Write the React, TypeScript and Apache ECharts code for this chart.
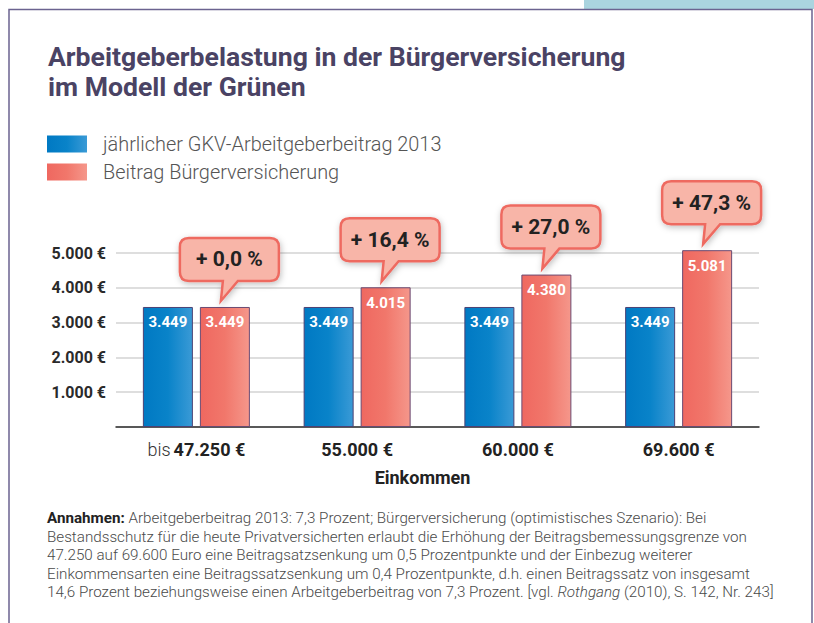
import React, { useEffect, useRef } from "react";
import * as echarts from "echarts";

const categories = ["bis 47.250 €", "55.000 €", "60.000 €", "69.600 €"];
const gkv2013 = [3449, 3449, 3449, 3449];
const buergerversicherung = [3449, 4015, 4380, 5081];
const pctChange = ["+ 0,0 %", "+ 16,4 %", "+ 27,0 %", "+ 47,3 %"];
const seriesNames = ["jährlicher GKV-Arbeitgeberbeitrag 2013", "Beitrag Bürgerversicherung"];
const yTicks = [0, 1000, 2000, 3000, 4000, 5000];
const titleLines = ["Arbeitgeberbelastung in der Bürgerversicherung", "im Modell der Grünen"];
const axisName = "Einkommen";
const footnoteLines = [
  "{b|Annahmen:} Arbeitgeberbeitrag 2013: 7,3 Prozent; Bürgerversicherung (optimistisches Szenario): Bei",
  "Bestandsschutz für die heute Privatversicherten erlaubt die Erhöhung der Beitragsbemessungsgrenze von",
  "47.250 auf 69.600 Euro eine Beitragsatzsenkung um 0,5 Prozentpunkte und der Einbezug weiterer",
  "Einkommensarten eine Beitragssatzsenkung um 0,4 Prozentpunkte, d.h. einen Beitragssatz von insgesamt",
  "14,6 Prozent beziehungsweise einen Arbeitgeberbeitrag von 7,3 Prozent. [vgl. {i|Rothgang} (2010), S. 142, Nr. 243]",
];

const FONT = "Roboto, 'Noto Sans', sans-serif";
const fmt = (v: number) => String(v).replace(/\B(?=(\d{3})+(?!\d))/g, ".");

export default function App() {
  const ref = useRef<HTMLDivElement>(null);
  useEffect(() => {
    if (!ref.current) return;
    const chart = echarts.init(ref.current, null, { renderer: "svg" });
    const blue = new echarts.graphic.LinearGradient(0, 0, 1, 0, [
      { offset: 0, color: "#0079c3" },
      { offset: 0.5, color: "#0983c9" },
      { offset: 1, color: "#3a9ad6" },
    ]);
    const red = new echarts.graphic.LinearGradient(0, 0, 1, 0, [
      { offset: 0, color: "#ef6860" },
      { offset: 0.5, color: "#f1776b" },
      { offset: 1, color: "#f5978b" },
    ]);
    const BAR_W = 50;
    const RED_OFF = (BAR_W + 7) / 2;
    chart.setOption({
      animation: false,
      backgroundColor: "#ffffff",
      textStyle: { fontFamily: FONT },
      title: {
        text: titleLines.join("\n"),
        left: 43,
        top: 36,
        textStyle: { fontSize: 26.6, fontWeight: "bold", color: "#4a4364", lineHeight: 30, fontFamily: FONT },
      },
      legend: {
        orient: "vertical",
        left: 42,
        top: 129,
        itemWidth: 40,
        itemHeight: 17,
        itemGap: 8,
        icon: "rect",
        itemStyle: { borderWidth: 0 },
        textStyle: { fontSize: 19.9, color: "#555555", padding: [0, 0, 0, 11], fontFamily: FONT, fontWeight: 300 },
        data: seriesNames,
      },
      grid: { left: 116, right: 55, top: 253, bottom: 196 },
      xAxis: {
        type: "category",
        data: categories,
        axisTick: { show: false },
        axisLine: { lineStyle: { color: "#2d2d2d", width: 1.5 } },
        axisLabel: {
          margin: 13,
          formatter: (v: string) =>
            v.startsWith("bis ") ? "{n|bis} {b|" + v.slice(4) + "}" : "{b|" + v + "}",
          rich: {
            n: { fontSize: 18, color: "#333", fontFamily: FONT, fontWeight: 300 },
            b: { fontSize: 18, color: "#222", fontWeight: "bold", fontFamily: FONT },
          },
        },
        name: axisName,
        nameLocation: "middle",
        nameGap: 41,
        nameTextStyle: { fontSize: 18, fontWeight: "bold", color: "#222", fontFamily: FONT, padding: [0, 30, 0, 0] },
      },
      yAxis: {
        type: "value",
        min: yTicks[0],
        max: yTicks[yTicks.length - 1],
        interval: 1000,
        axisLine: { show: false },
        axisTick: { show: false },
        splitLine: { lineStyle: { color: "#d3d3d3", width: 1.5 } },
        axisLabel: {
          margin: 10,
          fontSize: 16,
          fontWeight: "bold",
          color: "#2a2a2a",
          fontFamily: FONT,
          formatter: (v: number) => (v === 0 ? "" : fmt(v) + " €"),
        },
      },
      series: [
        {
          name: seriesNames[0],
          type: "bar",
          data: gkv2013,
          barWidth: BAR_W,
          barGap: "14%",
          clip: false,
          itemStyle: { color: blue, borderColor: "#4b4174", borderWidth: 1 },
          label: {
            show: true,
            position: "insideTop",
            distance: 8,
            color: "#ffffff",
            fontSize: 15,
            fontWeight: "bold",
            fontFamily: FONT,
            formatter: (p: any) => fmt(p.value),
          },
        },
        {
          name: seriesNames[1],
          type: "bar",
          data: buergerversicherung,
          barWidth: BAR_W,
          barGap: "14%",
          clip: false,
          itemStyle: { color: red, borderColor: "#6a4a72", borderWidth: 1 },
          label: {
            show: true,
            position: "insideTop",
            distance: 8,
            color: "#ffffff",
            fontSize: 15,
            fontWeight: "bold",
            fontFamily: FONT,
            formatter: (p: any) => fmt(p.value),
          },
        },
        {
          type: "custom",
          clip: false,
          z: 10,
          silent: true,
          data: buergerversicherung.map((v, i) => [i, v]),
          renderItem: (params: any, api: any) => {
            const pt = api.coord([api.value(0), api.value(1)]);
            const rcx = pt[0] + RED_OFF;
            const barTop = pt[1];
            const left = rcx - 45;
            const right = rcx + 54;
            const bottom = barTop - 26;
            const top = bottom - 43;
            const tipX = rcx - 4;
            const tipY = barTop - 6;
            const r = 9;
            const d = [
              `M${left + r},${top}`,
              `L${right - r},${top}`,
              `Q${right},${top} ${right},${top + r}`,
              `L${right},${bottom - r}`,
              `Q${right},${bottom} ${right - r},${bottom}`,
              `L${rcx + 13},${bottom}`,
              `L${tipX},${tipY}`,
              `L${rcx - 2},${bottom}`,
              `L${left + r},${bottom}`,
              `Q${left},${bottom} ${left},${bottom - r}`,
              `L${left},${top + r}`,
              `Q${left},${top} ${left + r},${top}`,
              "Z",
            ].join(" ");
            return {
              type: "group",
              children: [
                {
                  type: "path",
                  shape: { pathData: d },
                  style: {
                    fill: "#f8b5a8",
                    stroke: "#ee6a61",
                    lineWidth: 2.5,
                    shadowBlur: 6,
                    shadowOffsetX: 1,
                    shadowOffsetY: 2,
                    shadowColor: "rgba(0,0,0,0.25)",
                  },
                },
                {
                  type: "text",
                  x: (left + right) / 2,
                  y: (top + bottom) / 2,
                  style: {
                    text: pctChange[params.dataIndex],
                    fill: "#222222",
                    font: `bold 21px ${FONT}`,
                    align: "center",
                    verticalAlign: "middle",
                  },
                },
              ],
            };
          },
        },
      ],
      graphic: [
        {
          type: "rect",
          shape: { x: 584, y: 0, width: 230, height: 9 },
          style: { fill: "#aad4df" },
          z: 1,
        },
        {
          type: "rect",
          shape: { x: 9, y: 9.5, width: 803, height: 640 },
          style: { fill: "none", stroke: "#6b6390", lineWidth: 1.5 },
          z: 2,
        },
        {
          type: "text",
          left: 47,
          top: 509,
          style: {
            text: footnoteLines.join("\n"),
            fill: "#4a4a4a",
            font: `300 15.2px ${FONT}`,
            lineHeight: 18.5,
            rich: {
              b: { fontWeight: "bold", fontSize: 15.2, fill: "#222", fontFamily: FONT, lineHeight: 18.5 },
              i: { fontStyle: "italic", fontWeight: 300, fontSize: 15.2, fill: "#4a4a4a", fontFamily: FONT, lineHeight: 18.5 },
            },
          },
        },
      ],
    });
    return () => chart.dispose();
  }, []);
  return (
    <div
      ref={ref}
      style={{ position: "absolute", left: 0, top: 0, width: 814, height: 623 }}
    />
  );
}
